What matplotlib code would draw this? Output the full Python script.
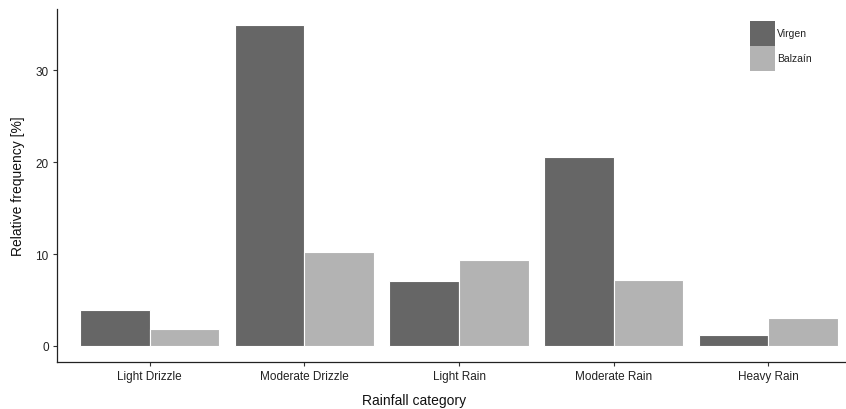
import matplotlib
matplotlib.use("Agg")
import matplotlib.pyplot as plt
from matplotlib.patches import Rectangle
import numpy as np

categories = ["Light Drizzle", "Moderate Drizzle", "Light Rain", "Moderate Rain", "Heavy Rain"]
virgen = [3.9, 34.93, 7.07, 20.55, 1.16]
balzain = [1.85, 10.18, 9.39, 7.17, 3.04]
series_names = ["Virgen", "Balzaín"]
colors = ["#666666", "#B3B3B3"]

plt.rcParams["font.family"] = ["Liberation Sans", "DejaVu Sans"]

W, H = 846, 410
fig = plt.figure(figsize=(W / 100, H / 100), dpi=100)
left, right, bottom, top = 57, 861, 363, 10
ax = fig.add_axes([left / W, (H - bottom) / H, (right - left) / W, (bottom - top) / H])

x = np.arange(len(categories))
w = 0.45
ax.bar(x - w / 2, virgen, width=w, color=colors[0], edgecolor="white", linewidth=0.8)
ax.bar(x + w / 2, balzain, width=w, color=colors[1], edgecolor="white", linewidth=0.8)

ymax = max(max(virgen), max(balzain))
ax.set_xlim(-0.6, len(categories) - 0.4)
ax.set_ylim(-0.05 * ymax, ymax * 1.05)

ax.set_xticks(x)
ax.set_xticklabels(categories)
ax.set_yticks([0, 10, 20, 30])
ax.tick_params(axis="both", labelsize=8.5, colors="#333333", length=3, width=0.8,
               labelcolor="#222222", pad=3)

for s in ["top", "right"]:
    ax.spines[s].set_visible(False)
for s in ["left", "bottom"]:
    ax.spines[s].set_linewidth(0.9)
    ax.spines[s].set_color("#222222")

fig.text(414 / W, 1 - 401 / H, "Rainfall category", ha="center", va="center", fontsize=10, color="#111111")
fig.text(18 / W, 1 - 186 / H, "Relative frequency [%]", ha="center", va="center", rotation=90,
         fontsize=10, color="#111111")

# legend: stacked square keys with labels to the right
key = 25
kx, ky = 750, 21.7
for i, (name, c) in enumerate(zip(series_names, colors)):
    y0 = ky + i * key
    fig.patches.append(Rectangle((kx / W, 1 - (y0 + key) / H), key / W, key / H,
                                 transform=fig.transFigure, facecolor=c, edgecolor="none"))
    fig.text((kx + key + 2) / W, 1 - (y0 + key / 2) / H, name, ha="left", va="center",
             fontsize=7.5, color="#222222")

fig.savefig("out.png", dpi=100)
